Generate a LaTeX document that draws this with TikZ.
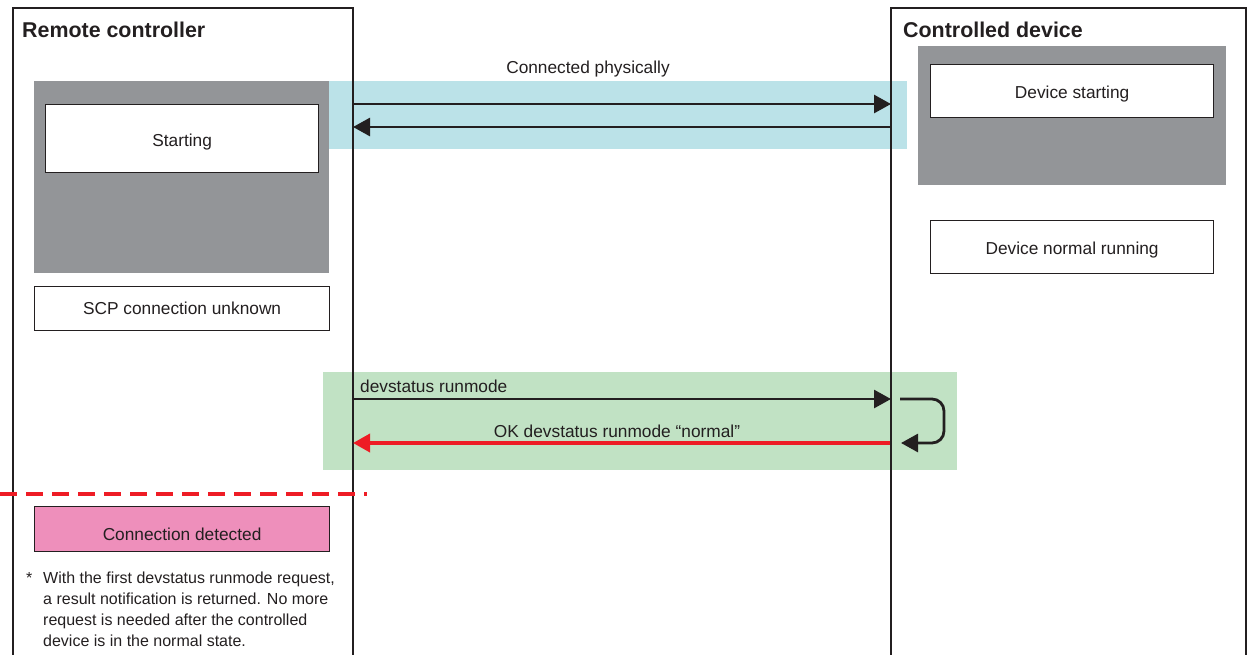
\documentclass[tikz,border=0pt]{standalone}
\usepackage{fontspec}
\setmainfont{Liberation Sans}
\usetikzlibrary{arrows.meta}
\definecolor{grayfill}{HTML}{939598}
\definecolor{cyanband}{HTML}{BBE2E8}
\definecolor{greenband}{HTML}{C1E2C4}
\definecolor{pinkfill}{HTML}{EE8FBB}
\definecolor{redline}{HTML}{EE1C25}
\definecolor{txt}{HTML}{231F20}
\tikzset{
  lane/.style={draw=txt, line width=1.8pt},
  statebox/.style={draw=txt, line width=1.2pt, fill=white, inner sep=0pt, font=\fontsize{17.3}{20}\selectfont, text=txt},
  msg/.style={line width=2.8pt, draw=txt, -{Triangle[length=17pt,width=18pt]}},
  redmsg/.style={line width=3.6pt, draw=redline, -{Triangle[length=17pt,width=18pt]}},
  lbl/.style={font=\fontsize{17.3}{20}\selectfont, text=txt, inner sep=0pt},
  title/.style={font=\bfseries\fontsize{21.4}{24}\selectfont, text=txt, inner sep=0pt, anchor=west},
}
\begin{document}
\begin{tikzpicture}[x=1pt,y=-1pt]
\useasboundingbox (0,0) rectangle (1253,654);
% bands
\fill[cyanband] (329,81) rectangle (907,149);
\fill[greenband] (323,372) rectangle (957,470);
% gray areas
\fill[grayfill] (34,81) rectangle (329,273);
\fill[grayfill] (918,46) rectangle (1226,185);
% lanes
\node[lane, minimum width=340pt, minimum height=650pt, anchor=north west, inner sep=0pt] (rc) at (12,7) {};
\node[lane, minimum width=355pt, minimum height=650pt, anchor=north west, inner sep=0pt] (cd) at (890,7) {};
\node[title] (rct) at (22,30) {Remote controller};
\node[title] (cdt) at (903,30) {Controlled device};
% state boxes
\node[statebox, minimum width=273pt, minimum height=68pt, anchor=north west] (start) at (45,104) {\raisebox{-8pt}[0pt][0pt]{Starting}};
\node[statebox, minimum width=283pt, minimum height=53pt, anchor=north west] (devstart) at (930,64) {\raisebox{-7pt}[0pt][0pt]{Device starting}};
\node[statebox, minimum width=283pt, minimum height=53pt, anchor=north west] (devnorm) at (930,220) {\raisebox{-7pt}[0pt][0pt]{Device normal running}};
\node[statebox, minimum width=295pt, minimum height=44pt, anchor=north west] (scp) at (34,286) {\raisebox{-6pt}[0pt][0pt]{SCP connection unknown}};
\node[statebox, fill=pinkfill, minimum width=295pt, minimum height=45pt, anchor=north west] (det) at (34,506) {\raisebox{-11pt}[0pt][0pt]{Connection detected}};
% message coordinates
\coordinate (a1s) at (352,104);
\coordinate (a1e) at (891,104);
\coordinate (a2s) at (890,127);
\coordinate (a2e) at (353,127);
\coordinate (m1s) at (352,399);
\coordinate (m1e) at (891,399);
\coordinate (m2s) at (890,443);
\coordinate (m2e) at (353,443);
\coordinate (ls) at (900,399);
\coordinate (lc1) at (944,399);
\coordinate (lc2) at (944,443);
\coordinate (le) at (901,443);
% messages
\node[lbl] (cp) at (588,67) {\raisebox{-6pt}[0pt][0pt]{Connected physically}};
\draw[msg] (a1s) -- (a1e);
\draw[msg] (a2s) -- (a2e);
\node[lbl, anchor=west] (dr) at (360,386) {\raisebox{-6pt}[0pt][0pt]{devstatus runmode}};
\draw[msg] (m1s) -- (m1e);
\node[lbl] (ok) at (617,431) {\raisebox{-6pt}[0pt][0pt]{OK devstatus runmode “normal”}};
\draw[redmsg] (m2s) -- (m2e);
\draw[msg, rounded corners=12pt] (ls) -- (lc1) -- (lc2) -- (le);
% dashed separator
\coordinate (d1) at (0,494);
\coordinate (d2) at (367,494);
\draw[redline, line width=3.2pt, dash pattern=on 17pt off 9pt] (d1) -- (d2);
% note
\node[lbl, anchor=north west, font=\fontsize{16}{20.8}\selectfont, align=left] (star) at (26,572) {*};
\node[lbl, anchor=north west, font=\fontsize{16}{20.8}\selectfont, align=left] (note) at (43,572) {With the first devstatus runmode request,\\a result notification is returned. No more\\request is needed after the controlled\\device is in the normal state.};
\end{tikzpicture}
\end{document}
